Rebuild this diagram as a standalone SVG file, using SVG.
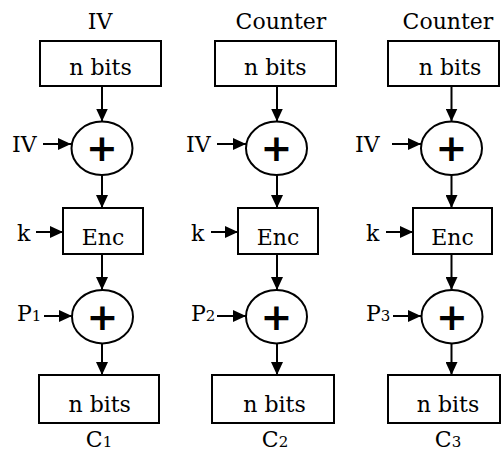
<svg xmlns="http://www.w3.org/2000/svg" width="501" height="452" viewBox="0 0 501 452">
<style>
.box{fill:#fff;stroke:#000;stroke-width:2}
.xor{fill:#fff;stroke:#000;stroke-width:2}
.t{font-family:"DejaVu Serif","Liberation Serif",serif;font-size:22px;fill:#000}
.c{text-anchor:middle}
.sub{font-size:15px}
.plus{font-family:"DejaVu Sans","Liberation Sans",sans-serif;font-weight:bold;font-size:38px;text-anchor:middle;fill:#000}
.ar{stroke:#000;stroke-width:2;fill:none;marker-end:url(#ah)}
</style>
<defs>
<marker id="ah" markerWidth="13" markerHeight="12" refX="13" refY="6" orient="auto" markerUnits="userSpaceOnUse">
<path d="M0,0 L13,6 L0,12 z" fill="#000"/>
</marker>
</defs>
<rect width="501" height="452" fill="#fff"/>

<g id="labels">
<text class="t c" x="100" y="29">IV</text>
<text class="t c" x="281" y="29">Counter</text>
<text class="t c" x="448" y="29">Counter</text>
<text class="t" x="12" y="152">IV</text>
<text class="t" x="186" y="152">IV</text>
<text class="t" x="355" y="152">IV</text>
<text class="t" x="17" y="241">k</text>
<text class="t" x="191" y="241">k</text>
<text class="t" x="366" y="241">k</text>
<text class="t" x="17" y="321">P<tspan class="sub">1</tspan></text>
<text class="t" x="191" y="321">P<tspan class="sub">2</tspan></text>
<text class="t" x="366" y="321">P<tspan class="sub">3</tspan></text>
<text class="t c" x="99" y="447">C<tspan class="sub">1</tspan></text>
<text class="t c" x="275" y="447">C<tspan class="sub">2</tspan></text>
<text class="t c" x="448" y="447">C<tspan class="sub">3</tspan></text>
</g>

<g id="connectors">
<line class="ar" x1="102" y1="87" x2="102" y2="121.5"/>
<line class="ar" x1="43" y1="144" x2="71" y2="144"/>
<line class="ar" x1="102" y1="175" x2="102" y2="208"/>
<line class="ar" x1="36" y1="232" x2="63" y2="232"/>
<line class="ar" x1="102" y1="254" x2="102" y2="290"/>
<line class="ar" x1="44" y1="316" x2="72" y2="316"/>
<line class="ar" x1="102" y1="343" x2="102" y2="375"/>

<line class="ar" x1="277" y1="87" x2="277" y2="121.5"/>
<line class="ar" x1="217" y1="144" x2="246" y2="144"/>
<line class="ar" x1="277" y1="175" x2="277" y2="208"/>
<line class="ar" x1="211" y1="232" x2="238" y2="232"/>
<line class="ar" x1="277" y1="254" x2="277" y2="290"/>
<line class="ar" x1="217" y1="316" x2="246" y2="316"/>
<line class="ar" x1="277" y1="343" x2="277" y2="375"/>

<line class="ar" x1="451.5" y1="87" x2="451.5" y2="121.5"/>
<line class="ar" x1="392" y1="144" x2="421" y2="144"/>
<line class="ar" x1="451.5" y1="175" x2="451.5" y2="208"/>
<line class="ar" x1="386" y1="232" x2="413" y2="232"/>
<line class="ar" x1="451.5" y1="254" x2="451.5" y2="290"/>
<line class="ar" x1="393" y1="316" x2="421" y2="316"/>
<line class="ar" x1="451.5" y1="343" x2="451.5" y2="375"/>
</g>

<g id="top1"><rect class="box" x="40" y="41" width="121" height="45"/><text class="t c" x="100.5" y="75">n bits</text></g>
<g id="xor1a"><ellipse class="xor" cx="102" cy="148.3" rx="30.5" ry="26.7"/><text class="plus" x="102" y="161">+</text></g>
<g id="enc1"><rect class="box" x="63" y="208" width="80" height="46"/><text class="t c" x="103" y="245">Enc</text></g>
<g id="xor1b"><ellipse class="xor" cx="102.5" cy="316.7" rx="30.5" ry="26.7"/><text class="plus" x="102.5" y="329.5">+</text></g>
<g id="bot1"><rect class="box" x="39" y="375" width="120" height="48"/><text class="t c" x="99.7" y="412">n bits</text></g>

<g id="top2"><rect class="box" x="215" y="41" width="121" height="45"/><text class="t c" x="275.3" y="75">n bits</text></g>
<g id="xor2a"><ellipse class="xor" cx="276.5" cy="148.3" rx="30.5" ry="26.7"/><text class="plus" x="276.5" y="161">+</text></g>
<g id="enc2"><rect class="box" x="238" y="208" width="80" height="46"/><text class="t c" x="278" y="245">Enc</text></g>
<g id="xor2b"><ellipse class="xor" cx="276.5" cy="316.7" rx="30.5" ry="26.7"/><text class="plus" x="276.5" y="329.5">+</text></g>
<g id="bot2"><rect class="box" x="212" y="375" width="122" height="48"/><text class="t c" x="274.5" y="412">n bits</text></g>

<g id="top3"><rect class="box" x="388" y="41" width="111" height="45"/><text class="t c" x="450" y="75">n bits</text></g>
<g id="xor3a"><ellipse class="xor" cx="451.5" cy="148.3" rx="30.5" ry="26.7"/><text class="plus" x="451.5" y="161">+</text></g>
<g id="enc3"><rect class="box" x="413" y="208" width="79" height="46"/><text class="t c" x="452.5" y="245">Enc</text></g>
<g id="xor3b"><ellipse class="xor" cx="452" cy="316.7" rx="30.5" ry="26.7"/><text class="plus" x="452" y="329.5">+</text></g>
<g id="bot3"><rect class="box" x="388" y="375" width="112" height="48"/><text class="t c" x="448" y="412">n bits</text></g>
</svg>
